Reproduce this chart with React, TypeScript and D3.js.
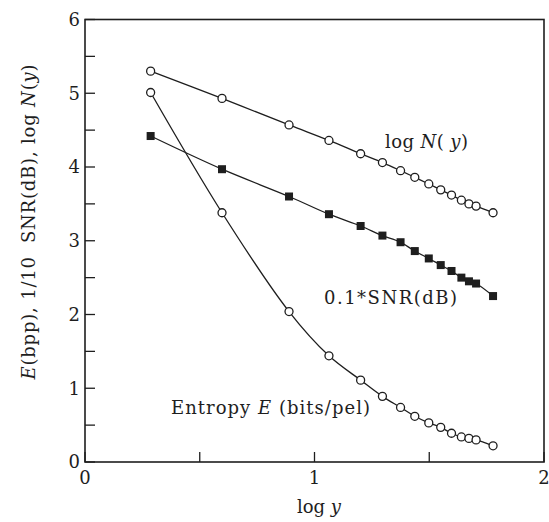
import React from "react";
import * as d3 from "d3";

// log y sample positions shared by the three series
const logY = [0.286, 0.597, 0.889, 1.063, 1.201, 1.296, 1.375, 1.437, 1.498, 1.55, 1.597, 1.64, 1.673, 1.704, 1.778];

// log N(y)
const logN = [5.3, 4.93, 4.57, 4.36, 4.18, 4.06, 3.95, 3.86, 3.77, 3.69, 3.62, 3.55, 3.5, 3.47, 3.38];

// 0.1 * SNR (dB)
const snr = [4.42, 3.97, 3.6, 3.36, 3.2, 3.07, 2.98, 2.86, 2.76, 2.67, 2.59, 2.5, 2.45, 2.42, 2.25];

// Entropy E (bits/pel)
const entropy = [5.01, 3.38, 2.04, 1.44, 1.11, 0.89, 0.74, 0.62, 0.53, 0.47, 0.39, 0.34, 0.32, 0.3, 0.22];

const xMajor = [0, 1, 2];
const xMinor = [0.5, 1.5];
const yMajor = [0, 1, 2, 3, 4, 5, 6];
const yMinor = [0.5, 1.5, 2.5, 3.5, 4.5, 5.5];

const W = 549;
const H = 522;
const INK = "#1e1e1e";
const FONT = "'DejaVu Serif', 'Liberation Serif', serif";

export default function App() {
  const x = d3.scaleLinear().domain([0, 2]).range([85, 544]);
  const y = d3.scaleLinear().domain([0, 6]).range([462, 19.5]);

  const line = d3
    .line<[number, number]>()
    .x((d) => x(d[0]))
    .y((d) => y(d[1]))
    .curve(d3.curveCatmullRom.alpha(0.5));

  const pts = (vals: number[]) => logY.map((v, i) => [v, vals[i]] as [number, number]);

  const tick = 10;

  return (
    <svg
      width={W}
      height={H}
      viewBox={`0 0 ${W} ${H}`}
      style={{ position: "absolute", left: 0, top: 0, background: "#fff" }}
      fontFamily={FONT}
    >
      <rect x={0} y={0} width={W} height={H} fill="#fff" />

      {/* frame */}
      <rect
        x={x(0)}
        y={y(6)}
        width={x(2) - x(0)}
        height={y(0) - y(6)}
        fill="none"
        stroke={INK}
        strokeWidth={1.6}
      />

      {/* y ticks */}
      {[...yMajor, ...yMinor].map((v) => (
        <line key={"yt" + v} x1={x(0)} x2={x(0) + tick} y1={y(v)} y2={y(v)} stroke={INK} strokeWidth={1.3} />
      ))}
      {/* x ticks */}
      {[...xMajor, ...xMinor].map((v) => (
        <line key={"xt" + v} x1={x(v)} x2={x(v)} y1={y(0)} y2={y(0) - tick} stroke={INK} strokeWidth={1.3} />
      ))}

      {/* y tick labels */}
      {yMajor.map((v) => (
        <text key={"yl" + v} x={x(0) - 5} y={y(v)} dy="0.36em" textAnchor="end" fontSize={18} fill={INK}>
          {v}
        </text>
      ))}
      {/* x tick labels */}
      {xMajor.map((v) => (
        <text key={"xl" + v} x={x(v)} y={y(0) + 22} textAnchor="middle" fontSize={18} fill={INK}>
          {v}
        </text>
      ))}

      {/* axis titles */}
      <text x={319} y={513} textAnchor="middle" fontSize={18} fill={INK}>
        log <tspan fontStyle="italic">y</tspan>
      </text>
      <text
        transform={`translate(35, 222) rotate(-90)`}
        textAnchor="middle"
        fontSize={18}
        fill={INK}
        textLength={315}
        lengthAdjust="spacing"
      >
        <tspan fontStyle="italic">E</tspan>(bpp), 1/10{"\u00a0\u00a0"}SNR(dB), log <tspan fontStyle="italic">N</tspan>(
        <tspan fontStyle="italic">y</tspan>)
      </text>

      {/* series lines */}
      <path d={line(pts(logN)) || ""} fill="none" stroke={INK} strokeWidth={1.3} />
      <path d={line(pts(snr)) || ""} fill="none" stroke={INK} strokeWidth={1.3} />
      <path d={line(pts(entropy)) || ""} fill="none" stroke={INK} strokeWidth={1.3} />

      {/* markers */}
      {pts(logN).map((d, i) => (
        <circle key={"n" + i} cx={x(d[0])} cy={y(d[1])} r={4} fill="#fff" stroke={INK} strokeWidth={1.3} />
      ))}
      {pts(entropy).map((d, i) => (
        <circle key={"e" + i} cx={x(d[0])} cy={y(d[1])} r={4} fill="#fff" stroke={INK} strokeWidth={1.3} />
      ))}
      {pts(snr).map((d, i) => (
        <rect key={"s" + i} x={x(d[0]) - 4} y={y(d[1]) - 4} width={8} height={8} fill={INK} />
      ))}

      {/* series labels */}
      <text x={385} y={148} fontSize={18} fill={INK} textLength={83} lengthAdjust="spacing">
        log <tspan fontStyle="italic">N</tspan>( <tspan fontStyle="italic">y</tspan>)
      </text>
      <text x={324} y={304} fontSize={18} fill={INK} textLength={133} lengthAdjust="spacing">
        0.1*SNR(dB)
      </text>
      <text x={171} y={414} fontSize={18} fill={INK} textLength={199} lengthAdjust="spacing">
        Entropy <tspan fontStyle="italic">E</tspan>{" "}(bits/pel)
      </text>
    </svg>
  );
}
